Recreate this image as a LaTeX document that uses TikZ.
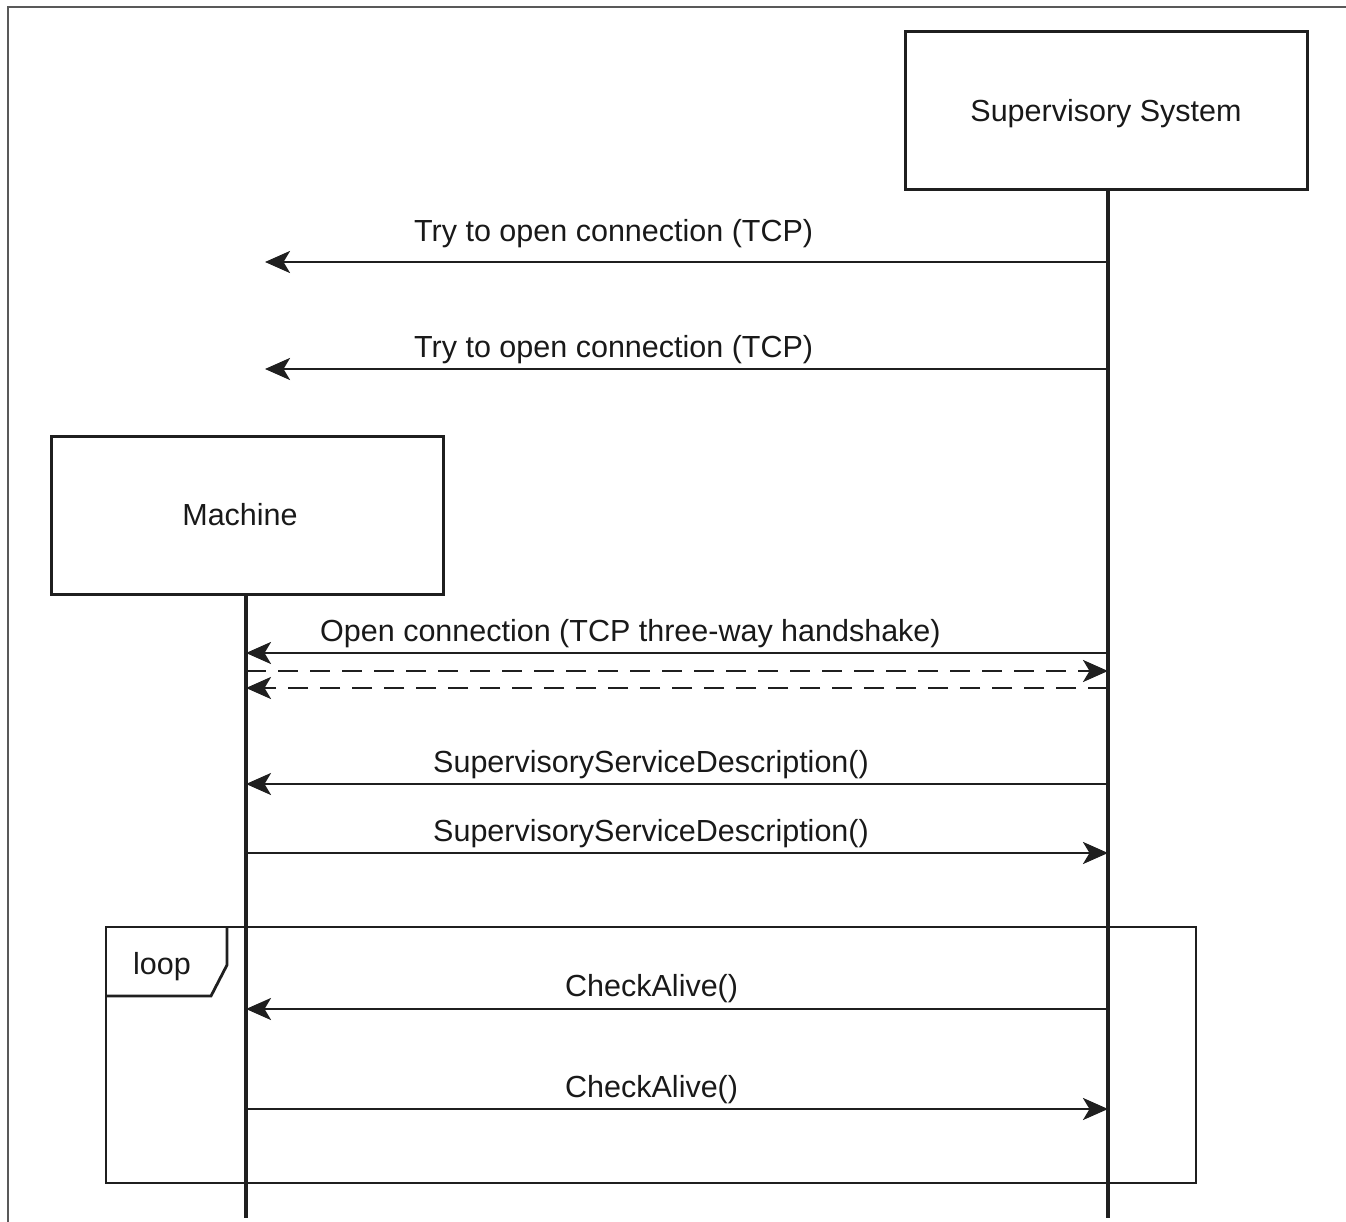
\documentclass[tikz,border=0pt]{standalone}
\usepackage{fontspec}
\setmainfont{Liberation Sans}
\usetikzlibrary{arrows.meta}

\begin{document}
\begin{tikzpicture}[x=1pt,y=-1pt,
  lbl/.style={font=\fontsize{30.5}{36}\selectfont, inner sep=0pt, anchor=base west, text=black!90},
  actor/.style={draw=black!88, line width=3pt, inner sep=0pt,
    minimum height=158pt, font=\fontsize{30.5}{36}\selectfont, text=black!90},
  life/.style={draw=black!88, line width=3.2pt},
  msg/.style={draw=black!88, line width=2.8pt,
    -{Stealth[length=25pt,width=22pt,inset=6.5pt]}},
  reply/.style={msg, dash pattern=on 20pt off 12pt},
  frame/.style={draw=black!65, line width=2pt}
]
\useasboundingbox (0,0) rectangle (1346,1222);

% page frame (top and left edges)
\coordinate (ftl) at (7.5,7);
\coordinate (ftr) at (1346,7);
\coordinate (fbl) at (7.5,1222);
\draw[frame] (fbl) -- (ftl) -- (ftr);

% participants
\node[actor, minimum width=402pt] (sup) at (1106,111) {\raisebox{-10.5pt}[0pt][0pt]{Supervisory System}};
\node[actor, minimum width=392pt] (mac) at (247,515) {Machine\hspace*{14pt}};

% lifelines
\coordinate (supend) at (1108,1218);
\coordinate (macend) at (246,1218);
\draw[life] (sup.south -| supend) -- (supend);
\draw[life] (mac.south -| macend) -- (macend);

% message end points on the lifelines
\foreach \y in {262,369,653,671,688,784,853,1009,1109}{
  \coordinate (s\y) at (1108,\y);
  \coordinate (m\y) at (246,\y);
}
\coordinate (x262) at (265,262);
\coordinate (x369) at (265,369);

% connection attempts before the machine exists
\draw[msg] (s262) -- (x262);
\node[lbl] (t1) at (414,242) {Try to open connection (TCP)};
\draw[msg] (s369) -- (x369);
\node[lbl] (t2) at (414,357) {Try to open connection (TCP)};

% three-way handshake
\draw[msg] (s653) -- (m653);
\node[lbl] (t3) at (320,641) {Open connection (TCP three-way handshake)};
\draw[reply] (m671) -- (s671);
\draw[reply] (s688) -- (m688);

% service description exchange
\draw[msg] (s784) -- (m784);
\node[lbl] (t4) at (433,772) {SupervisoryServiceDescription()};
\draw[msg] (m853) -- (s853);
\node[lbl] (t5) at (433,841) {SupervisoryServiceDescription()};

% loop fragment
\coordinate (la) at (106,927);
\coordinate (lb) at (1196,1183);
\draw[draw=black!88, line width=2.8pt] (la) rectangle (lb);
\coordinate (tb1) at (227,927);
\coordinate (tb2) at (227,965);
\coordinate (tb3) at (211,996);
\coordinate (tb4) at (106,996);
\draw[draw=black!88, line width=2.8pt] (tb1) -- (tb2) -- (tb3) -- (tb4);
\node[font=\fontsize{30.5}{36}\selectfont, inner sep=0pt, text=black!90] (loopl) at (162,967) {loop};

% heartbeat inside the loop
\draw[msg] (s1009) -- (m1009);
\node[lbl] (t6) at (565,996) {CheckAlive()};
\draw[msg] (m1109) -- (s1109);
\node[lbl] (t7) at (565,1097) {CheckAlive()};
\end{tikzpicture}
\end{document}
